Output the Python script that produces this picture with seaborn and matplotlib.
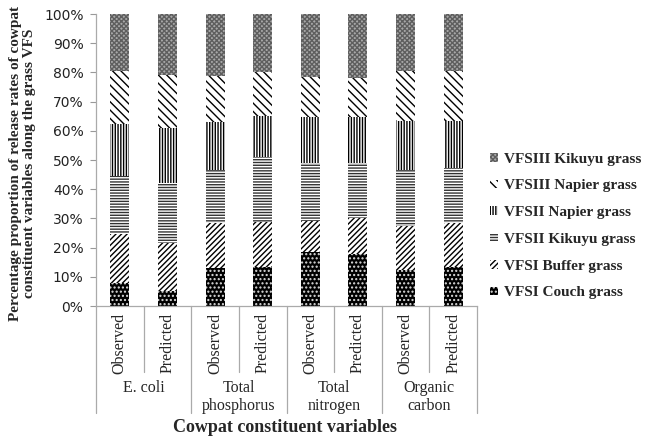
import matplotlib
matplotlib.use("Agg")
import matplotlib.pyplot as plt
import seaborn as sns
import pandas as pd
import numpy as np
from matplotlib.patches import Patch
import matplotlib.transforms as mtransforms

# ---- data (percent of each bar) ----
groups = ["E. coli", "Total\nphosphorus", "Total\nnitrogen", "Organic\ncarbon"]
kinds = ["Observed", "Predicted"]
series_names = ["VFSI Couch grass", "VFSI Buffer grass", "VFSII Kikuyu grass",
                "VFSII Napier grass", "VFSIII Napier grass", "VFSIII Kikuyu grass"]
couch = [7.8, 5.1, 13.1, 13.5, 18.4, 17.7, 12.5, 13.5]
buffer_ = [16.9, 16.6, 15.4, 15.4, 10.6, 12.5, 15.0, 14.8]
kikuyu2 = [19.8, 20.3, 18.1, 22.0, 19.9, 18.7, 19.0, 18.9]
napier2 = [17.8, 19.0, 16.5, 14.3, 15.7, 15.7, 17.0, 16.3]
napier3 = [18.2, 18.1, 15.7, 15.0, 13.9, 13.6, 16.9, 17.0]
kikuyu3 = [19.5, 20.9, 21.2, 19.8, 21.5, 21.8, 19.6, 19.5]
series_vals = [couch, buffer_, kikuyu2, napier2, napier3, kikuyu3]

# styles: (facecolor, hatch, hatchcolor)
styles = [("black", "....", "#dddddd"),
          ("white", "//////", "black"),
          ("white", "------", "#333333"),
          ("white", "||||||", "black"),
          ("white", "\\\\\\\\", "black"),
          ("#a8a8a8", "xxxxxxx", "#5e5e5e")]

bar_ids = [f"{g}|{k}" for g in groups for k in kinds]
vals = np.array(series_vals)
totals = vals / vals.sum(axis=0) * 100
cum = np.cumsum(totals, axis=0)

sns.set_style("white")
plt.rcParams["font.family"] = ["Liberation Serif", "DejaVu Serif"]
plt.rcParams["hatch.linewidth"] = 1.0

fig = plt.figure(figsize=(6.48, 4.38), dpi=100)
ax = fig.add_axes([96/648, 1-306/438, (477-96)/648, (306-14)/438])

# draw cumulative bars from top series down
for i in range(len(series_names) - 1, -1, -1):
    df = pd.DataFrame({"bar": bar_ids, "val": cum[i]})
    fc, hatch, hc = styles[i]
    n_before = len(ax.patches)
    sns.barplot(data=df, x="bar", y="val", order=bar_ids, color=fc,
                width=0.4, saturation=1, ax=ax, errorbar=None)
    for p in ax.patches[n_before:]:
        p.set_facecolor(fc)
        p.set_hatch(hatch)
        p.set_edgecolor(hc)
        p.set_linewidth(0)

ax.set_ylim(0, 100)
ax.set_xlim(-0.5, len(bar_ids) - 0.5)
ax.set_yticks(np.arange(0, 101, 10))
ax.set_yticklabels([f"{v}%" for v in range(0, 101, 10)],
                   fontsize=10, family=["DejaVu Sans"], color="#222222")
ax.tick_params(axis="y", length=4, color="#999999", width=0.8, pad=5, left=True)
ax.set_xticks(range(len(bar_ids)))
ax.set_xticklabels([k for g in groups for k in kinds], rotation=90,
                   fontsize=11.5, va="top")
ax.tick_params(axis="x", length=0, pad=5)
for s in ["top", "right"]:
    ax.spines[s].set_visible(False)
for s in ["left", "bottom"]:
    ax.spines[s].set_color("#aaaaaa")
    ax.spines[s].set_linewidth(0.9)
ax.set_xlabel("")
ax.set_ylabel("")

# category separators
trans = mtransforms.blended_transform_factory(ax.transData, fig.transFigure)
y0 = 1 - 306/438
y_in = 1 - 372/438
y_out = 1 - 413/438
for j in range(len(bar_ids) + 1):
    x = j - 0.5
    yend = y_out if j % 2 == 0 else y_in
    ax.add_line(plt.Line2D([x, x], [y0, yend], transform=trans, color="#aaaaaa",
                           lw=0.9, clip_on=False))
for gi, g in enumerate(groups):
    ax.text(2*gi + 0.5, 1 - 380/438, g, transform=trans, ha="center", va="top",
            fontsize=11.5, linespacing=1.15)

fig.text(285/648, 1 - 428/438, "Cowpat constituent variables", ha="center",
         va="center", fontsize=13, fontweight="bold")
fig.text(23/648, 1 - 163/438,
         "Percentage proportion of release rates of cowpat\nconstituent variables along the grass VFS",
         rotation=90, ha="center", va="center", fontsize=11, fontweight="bold",
         linespacing=1.1)

# legend
handles = []
for i in range(len(series_names) - 1, -1, -1):
    fc, hatch, hc = styles[i]
    h = Patch(facecolor=fc, hatch=hatch, edgecolor=hc, linewidth=0,
              label=series_names[i])
    handles.append(h)
leg = fig.legend(handles=handles, loc="center left",
                 bbox_to_anchor=(490/648, 1 - 226/438), frameon=False,
                 fontsize=11, handlelength=0.5, handleheight=0.5,
                 handletextpad=0.4, labelspacing=0.9, borderpad=0, borderaxespad=0)
for t in leg.get_texts():
    t.set_fontweight("bold")

fig.savefig("out.png", dpi=100)
